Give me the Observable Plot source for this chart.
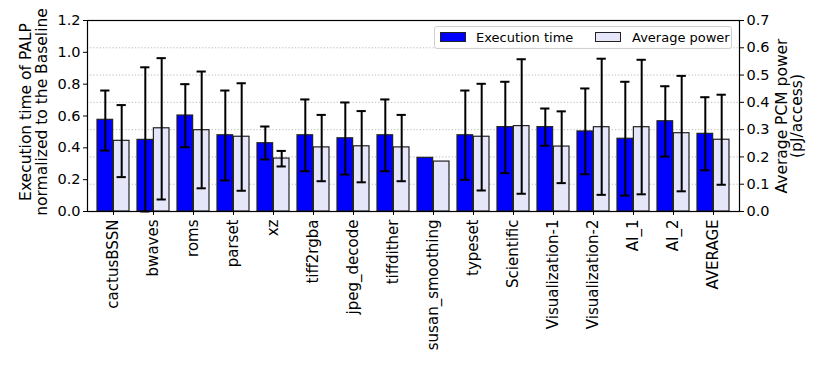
<!DOCTYPE html>
<html>
<head>
<meta charset="utf-8">
<script src="https://cdn.jsdelivr.net/npm/d3@7"></script>
<script src="https://cdn.jsdelivr.net/npm/@observablehq/plot@0.6"></script>
<style>
  body { margin: 0; background: #fff; font-family: "DejaVu Sans", sans-serif; }
  #wrap { position: relative; width: 822px; height: 366px; }
  #legend { position: absolute; left: 434px; top: 26px; width: 298px; height: 23px;
    border: 1px solid #d0d0d0; border-radius: 3px; background: rgba(255,255,255,0.8);
    font-size: 13px; color: #000; box-sizing: border-box; }
  .sw { position: absolute; top: 5px; width: 26px; height: 10px; border: 1px solid #222; box-sizing: border-box; }
  .lt { position: absolute; top: 4px; white-space: nowrap; line-height: 1; }
</style>
</head>
<body>
<div id="wrap"></div>
<script>
// ---- data ----
const categories = ["cactusBSSN","bwaves","roms","parset","xz","tiff2rgba","jpeg_decode","tiffdither",
  "susan_smoothing","typeset","Scientific","Visualization-1","Visualization-2","AI_1","AI_2","AVERAGE"];
// Execution time of PALP normalized to the Baseline (left axis)
const execTime = [0.576,0.450,0.603,0.479,0.429,0.479,0.460,0.479,0.337,0.479,0.530,0.530,0.503,0.457,0.567,0.488];
const execLow  = [0.383,0.000,0.404,0.195,0.327,0.253,0.232,0.253,null,0.199,0.241,0.413,0.234,0.100,0.345,0.259];
const execHigh = [0.760,0.906,0.800,0.760,0.534,0.704,0.685,0.704,null,0.760,0.815,0.647,0.773,0.815,0.787,0.718];
// Average PCM power, pJ/access (right axis)
const power     = [0.259,0.305,0.298,0.274,0.194,0.235,0.239,0.235,0.183,0.274,0.313,0.238,0.309,0.309,0.287,0.263];
const powerLow  = [0.126,0.044,0.085,0.076,0.165,0.111,0.107,0.111,null,0.077,0.065,0.104,0.061,0.063,0.074,0.098];
const powerHigh = [0.390,0.562,0.513,0.470,0.222,0.354,0.368,0.354,null,0.468,0.558,0.367,0.560,0.556,0.497,0.428];
const leftTicks = [0,0.2,0.4,0.6,0.8,1.0,1.2];
const rightTicks = [0,0.1,0.2,0.3,0.4,0.5,0.6,0.7];
const seriesNames = ["Execution time","Average power"];
const seriesColors = ["#0000ff","#e6e6fa"];

// ---- layout ----
const W = 822, H = 366, ML = 87, MR = 83, MT = 20, MB = 155;
const leftMax = 1.2, rightMax = 0.7, ratio = leftMax / rightMax;
const step = (W - ML - MR) / categories.length;
const half = step / 2, outer = 4;
const off = (half - outer) / 2;     // bar center offset from band center
const capHalf = 5;

const rows = categories.map((name, i) => ({
  name,
  time: execTime[i], timeLo: execLow[i], timeHi: execHigh[i],
  power: power[i] * ratio,
  powerLo: powerLow[i] == null ? null : powerLow[i] * ratio,
  powerHi: powerHigh[i] == null ? null : powerHigh[i] * ratio
}));
const errRows = rows.filter(d => d.timeLo != null);
const gridVals = rightTicks.filter(v => v > 0 && v < rightMax).map(v => v * ratio);

const errStyle = {stroke: "#000", strokeWidth: 2};
const chart = Plot.plot({
  width: W, height: H, marginLeft: ML, marginRight: MR, marginTop: MT, marginBottom: MB,
  style: {fontFamily: "DejaVu Sans, sans-serif", fontSize: "14.5px", color: "#000", background: "#fff"},
  x: {domain: categories, padding: 0, label: null, axis: null},
  y: {domain: [0, leftMax], label: null, axis: null},
  marks: [
    Plot.ruleY(gridVals, {stroke: "#b0b0b0", strokeDasharray: "1.2,2", strokeWidth: 0.9}),
    Plot.barY(rows, {x: "name", y: "time", fill: seriesColors[0], stroke: "#222", strokeWidth: 1.2,
      insetLeft: outer, insetRight: half}),
    Plot.barY(rows, {x: "name", y: "power", fill: seriesColors[1], stroke: "#222", strokeWidth: 1.2,
      insetLeft: half, insetRight: outer}),
    Plot.ruleX(errRows, {x: "name", y1: "timeLo", y2: "timeHi", dx: -off, ...errStyle}),
    Plot.tickY(errRows, {x: "name", y: "timeLo", dx: -off, insetLeft: half - capHalf, insetRight: half - capHalf, ...errStyle}),
    Plot.tickY(errRows, {x: "name", y: "timeHi", dx: -off, insetLeft: half - capHalf, insetRight: half - capHalf, ...errStyle}),
    Plot.ruleX(errRows, {x: "name", y1: "powerLo", y2: "powerHi", dx: off, ...errStyle}),
    Plot.tickY(errRows, {x: "name", y: "powerLo", dx: off, insetLeft: half - capHalf, insetRight: half - capHalf, ...errStyle}),
    Plot.tickY(errRows, {x: "name", y: "powerHi", dx: off, insetLeft: half - capHalf, insetRight: half - capHalf, ...errStyle}),
    Plot.frame({stroke: "#000", strokeWidth: 1.2}),
    Plot.axisX({tickRotate: -90, tickSize: 4, tickPadding: 4, fontSize: 15, label: null, stroke: "#000"}),
    Plot.axisY({ticks: leftTicks, tickFormat: d => d.toFixed(1), tickSize: 4, tickPadding: 3, fontSize: 14.5, label: null}),
    Plot.axisY({anchor: "right", ticks: rightTicks.map(v => v * ratio), tickFormat: d => (d / ratio).toFixed(1),
      tickSize: 4, tickPadding: 3, fontSize: 14.5, label: null}),
    Plot.text(["Execution time of PALP\nnormalized to the Baseline"], {frameAnchor: "left", rotate: -90,
      textAnchor: "middle", lineAnchor: "middle", dx: -53.6, dy: -4, fontSize: 15.5, lineHeight: 1, text: d => d}),
    Plot.text(["Average PCM power\n(pJ/access)"], {frameAnchor: "right", rotate: -90,
      textAnchor: "middle", lineAnchor: "middle", dx: 49.8, fontSize: 15.5, lineHeight: 1, text: d => d})
  ]
});
const wrap = document.getElementById("wrap");
wrap.appendChild(chart);

// legend (inside the plot, upper right)
const legend = document.createElement("div");
legend.id = "legend";
const swLeft = [5, 160], txtLeft = [41, 197];
seriesNames.forEach((s, i) => {
  const sw = document.createElement("div");
  sw.className = "sw"; sw.style.left = swLeft[i] + "px"; sw.style.background = seriesColors[i];
  const t = document.createElement("div");
  t.className = "lt"; t.style.left = txtLeft[i] + "px"; t.textContent = s;
  legend.appendChild(sw); legend.appendChild(t);
});
wrap.appendChild(legend);
</script>
</body>
</html>
